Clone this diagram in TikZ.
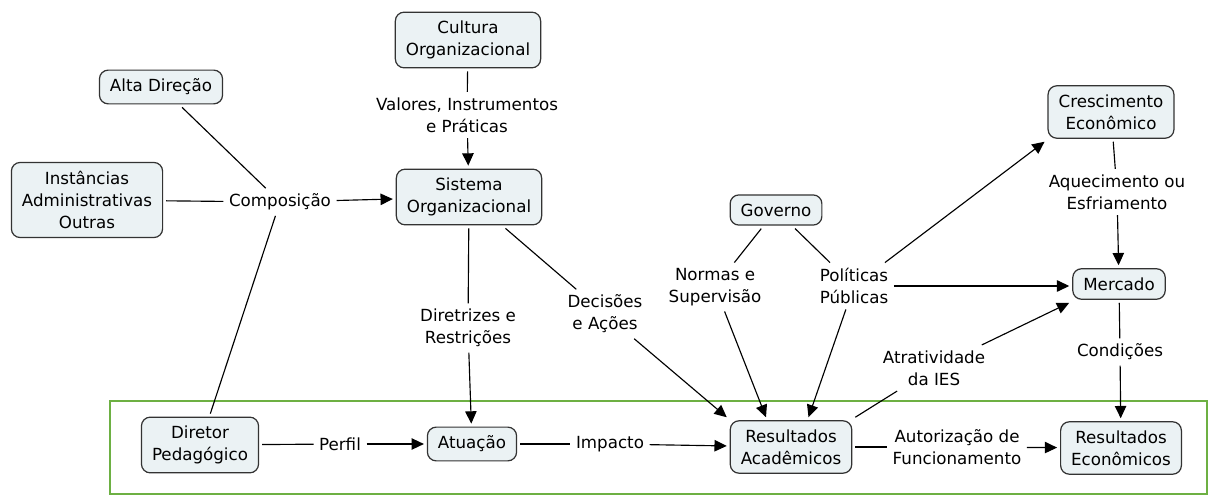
\documentclass[tikz,border=0pt]{standalone}
\usepackage{fontspec}
\setmainfont{DejaVu Sans}
\usepackage{tikz}
\usetikzlibrary{arrows.meta, positioning}
\definecolor{conceptfill}{HTML}{EBF2F4}
\definecolor{conceptdraw}{HTML}{333333}
\definecolor{framegreen}{HTML}{6DB043}

\begin{document}
\begin{tikzpicture}[
    x=0.02cm, y=-0.02cm,
    concept/.style={
      rectangle, draw=conceptdraw, fill=conceptfill, rounded corners=5pt,
      align=center, font=\fontsize{9.5}{12.5}\selectfont, line width=0.7pt,
      inner xsep=6pt, inner ysep=5pt, outer sep=2pt
    },
    phrase/.style={align=center, font=\fontsize{9.5}{12.5}\selectfont, inner sep=3pt},
    arrow/.style={-{Triangle[length=7pt, width=6.5pt]}, line width=0.65pt},
    plain/.style={line width=0.65pt},
]
  \useasboundingbox (0,0) rectangle (1212,496);
  \draw[framegreen, line width=1.1pt] (110,401) rectangle (1207,494);

  \node[concept] (cultura) at (468,40) {Cultura\\Organizacional};
  \node[concept] (alta) at (161,87) {Alta Direção};
  \node[concept] (inst) at (87,200) {Instâncias\\Administrativas\\Outras};
  \node[concept] (sistema) at (469,197) {Sistema\\Organizacional};
  \node[concept] (governo) at (776,210) {Governo};
  \node[concept] (cresc) at (1111,112) {Crescimento\\Econômico};
  \node[concept] (mercado) at (1119,284) {Mercado};
  \node[concept] (diretor) at (200,445) {Diretor\\Pedagógico};
  \node[concept] (atuacao) at (472,444) {Atuação};
  \node[concept] (racad) at (791,447) {Resultados\\Acadêmicos};
  \node[concept] (recon) at (1121,448) {Resultados\\Econômicos};

  \node[phrase] (compos) at (280,202) {Composição};
  \node[phrase] (valores) at (467,115) {Valores, Instrumentos\\e Práticas};
  \node[phrase] (diretr) at (468,328) {Diretrizes e\\Restrições};
  \node[phrase] (decis) at (605,314) {Decisões\\e Ações};
  \node[phrase] (normas) at (715,287) {Normas e\\Supervisão};
  \node[phrase] (polit) at (854,286) {Políticas\\Públicas};
  \node[phrase] (aquec) at (1117,192) {Aquecimento ou\\Esfriamento};
  \node[phrase] (atrat) at (934,368) {Atratividade\\da IES};
  \node[phrase] (condic) at (1120,352) {Condições};
  \node[phrase] (perfil) at (340,444) {Perfil};
  \node[phrase] (impacto) at (610,444) {Impacto};
  \node[phrase] (autoriz) at (957,447) {Autorização de\\Funcionamento};

  \draw[plain] (alta) -- (compos);
  \draw[plain] (inst) -- (compos);
  \draw[plain] (diretor) -- (compos);
  \draw[arrow] (compos) -- (sistema);
  \draw[plain] (cultura) -- (valores);
  \draw[arrow] (valores) -- (sistema);
  \draw[plain] (sistema) -- (diretr);
  \draw[arrow] (diretr) -- (atuacao);
  \draw[plain] (sistema) -- (decis);
  \draw[arrow] (decis) -- (racad.north west);
  \draw[plain] (governo) -- (normas);
  \draw[plain] (governo) -- (polit);
  \draw[arrow] (normas) -- ([xshift=-0.5cm]racad.north);
  \draw[arrow] (polit) -- ([xshift=0.35cm]racad.north);
  \draw[arrow] (polit) -- (polit -| mercado.west);
  \draw[arrow] (polit) -- (cresc.south west);
  \draw[plain] (cresc) -- (aquec);
  \draw[arrow] (aquec) -- (mercado);
  \draw[plain] (racad.north east) -- (atrat);
  \draw[arrow] (atrat) -- (mercado.south west);
  \draw[plain] (mercado) -- (condic);
  \draw[arrow] (condic) -- (recon);
  \draw[plain] (diretor) -- (perfil);
  \draw[arrow] (perfil) -- (atuacao);
  \draw[plain] (atuacao) -- (impacto);
  \draw[arrow] (impacto) -- (racad);
  \draw[plain] (racad) -- (autoriz);
  \draw[arrow] (autoriz) -- (recon);
\end{tikzpicture}
\end{document}
